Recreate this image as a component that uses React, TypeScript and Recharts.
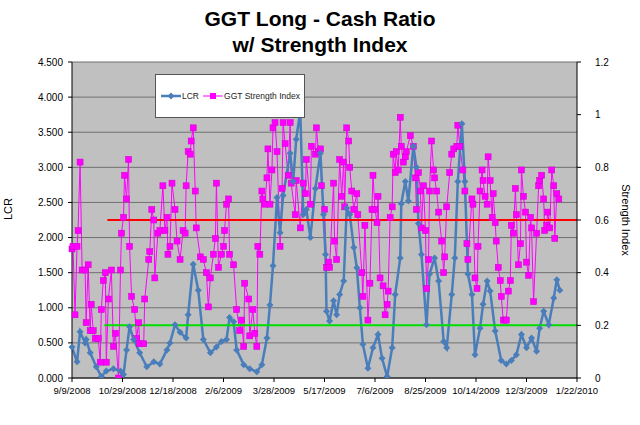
import React from "react";
import { ComposedChart, Line, XAxis, YAxis, CartesianGrid, ReferenceLine } from "recharts";

const tickDays = [0, 50, 100, 150, 200, 250, 300, 350, 400, 450, 500];
const tickLabels = ["9/9/2008", "10/29/2008", "12/18/2008", "2/6/2009", "3/28/2009", "5/17/2009", "7/6/2009", "8/25/2009", "10/14/2009", "12/3/2009", "1/22/2010"];

const lcrDays = [0, 5, 8, 13, 14, 18, 24, 29, 34, 41, 48, 51, 54, 57, 61, 67, 74, 81, 87, 94, 97, 102, 107, 113, 115, 120, 125, 130, 137, 143, 148, 153, 156, 160, 163, 170, 176, 183, 188, 193, 196, 199, 203, 206, 209, 216, 219, 222, 226, 229, 232, 236, 241,
  246, 249, 251, 252, 255, 259, 262, 265, 269, 272, 275, 279, 282, 285, 288, 293, 298, 303, 307, 312, 317, 320, 325, 326, 330, 333, 338, 341, 343, 346, 351, 354, 359, 363, 368, 371, 376, 379, 382, 386, 389, 392, 396, 399, 404, 407, 411, 414, 419, 425, 430, 435, 440, 445, 450, 455, 460, 463, 467, 472, 477, 480, 483];
const lcrValues = [0.44, 0.23, 0.66, 0.5, 0.55, 0.36, 0.16, 0.02, 0.1, 0.13, 0.1, 0.05, 0.4, 0.73, 0.55, 0.36, 0.16, 0.23, 0.2, 0.4, 0.5, 0.76, 0.65, 0.57, 0.9, 1.62, 1.25, 0.55, 0.36, 0.44, 0.52, 0.55, 0.86, 0.8, 0.4, 0.19, 0.13, 0.09, 0.19, 0.57, 1.04, 1.6, 2.57, 2.07, 2.6, 3.2, 2.8, 3.4, 3.8, 2.33, 2.4, 2.0, 2.7,
  3.2, 2.33, 1.76, 0.95, 0.81, 1.1, 0.9, 1.19, 1.38, 2.42, 2.33, 1.86, 1.57, 1.0, 0.48, 0.14, 0.43, 0.62, 0.28, 0.02, 0.43, 1.19, 1.71, 2.48, 2.8, 2.52, 3.3, 3.0, 2.2, 1.76, 0.76, 1.48, 1.71, 1.38, 0.52, 0.43, 1.19, 1.71, 2.8, 3.62, 2.8, 1.48, 1.19, 0.33, 0.71, 1.05, 1.38, 1.24, 0.67, 0.25, 0.2, 0.25, 0.33, 0.62, 0.43, 0.57, 0.38, 0.71, 0.95, 0.76, 1.14, 1.4, 1.25, 1.3];

const siDays = [0, 1, 3, 5, 6, 8, 10, 13, 14, 16, 18, 19, 21, 23, 26, 28, 29, 31, 33, 34, 36, 39, 41, 43, 46, 48, 49, 51, 52, 54, 56, 57, 59, 62, 64, 66, 67, 71, 72, 76, 77, 79, 81, 82, 85, 87, 90, 92, 94, 95, 97, 99, 102, 104, 107, 110, 112, 113, 115, 117, 118, 120, 122, 123, 127, 130, 133, 135, 137, 140, 142, 143, 145, 148, 150, 151, 153, 155, 156, 160, 163, 166, 168, 170, 171, 175, 176, 179, 181, 183, 184, 186, 188, 189, 191, 193, 194, 196, 198, 199, 201, 203, 206, 208, 209, 211, 214, 216, 217, 221, 222, 226, 229, 231, 232, 236, 237, 241, 242, 244,
  246, 247, 250, 252, 254, 255, 259, 260, 262, 265, 267, 269, 270, 272, 274, 275, 277, 279, 282, 283, 287, 288, 290, 293, 295, 297, 298, 300, 302, 303, 305, 308, 310, 312, 313, 315, 317, 318, 320, 321, 323, 325, 326, 328, 330, 331, 335, 338, 340, 341, 343, 345, 346, 348, 350, 351, 353, 354, 356, 358, 359, 361, 363, 366, 368, 369, 371, 374, 376, 378, 381, 382, 384, 387, 389, 391, 392, 396, 397, 399, 401, 402, 404, 406, 407, 409, 411, 412, 414, 416, 417, 419, 420, 422, 424, 425, 427, 429, 430, 432, 434, 435, 437, 439, 440, 442, 444, 445, 447, 449, 450, 452, 454, 455, 457, 460, 462, 463, 465, 467, 468, 470, 471, 473, 475, 477, 478, 480, 482];
const siValues = [0.49, 0.5, 0.24, 0.5, 0.56, 0.82, 0.41, 0.41, 0.21, 0.43, 0.18, 0.28, 0.18, 0.15, 0.15, 0.06, 0.26, 0.37, 0.4, 0.06, 0.3, 0.41, 0.12, 0.17, 0.0, 0.41, 0.55, 0.61, 0.77, 0.68, 0.83, 0.5, 0.31, 0.26, 0.15, 0.21, 0.13, 0.13, 0.3, 0.45, 0.48, 0.64, 0.6, 0.38, 0.55, 0.56, 0.73, 0.56, 0.61, 0.47, 0.5, 0.74, 0.64, 0.52, 0.45, 0.56, 0.55, 0.73, 0.86, 0.85, 0.9, 0.95, 0.71, 0.57, 0.46, 0.45, 0.4, 0.27, 0.38, 0.47, 0.53, 0.74, 0.42, 0.47, 0.5, 0.56, 0.66, 0.68, 0.47, 0.43, 0.26, 0.18, 0.22, 0.12, 0.36, 0.3, 0.16, 0.26, 0.17, 0.12, 0.5, 0.47, 0.71, 0.68, 0.66, 0.76, 0.87, 0.66, 0.79, 0.95, 0.97, 0.86, 0.5, 0.72, 0.97, 0.89, 0.77, 0.97, 0.74, 0.62, 0.75, 0.57, 0.74, 0.7, 0.83, 0.66, 0.88, 0.85, 0.95, 0.86,
  0.87, 0.73, 0.64, 0.42, 0.44, 0.42, 0.74, 0.52, 0.45, 0.83, 0.69, 0.82, 0.65, 0.95, 0.9, 0.8, 0.71, 0.64, 0.7, 0.62, 0.4, 0.31, 0.58, 0.22, 0.36, 0.64, 0.77, 0.64, 0.59, 0.69, 0.38, 0.35, 0.24, 0.28, 0.33, 0.61, 0.65, 0.85, 0.78, 0.86, 0.79, 0.99, 0.88, 0.82, 0.84, 0.86, 0.92, 0.88, 0.76, 0.64, 0.78, 0.71, 0.57, 0.73, 0.56, 0.34, 0.45, 0.71, 0.9, 0.79, 0.76, 0.71, 0.63, 0.52, 0.4, 0.46, 0.65, 0.78, 0.85, 0.87, 0.88, 0.96, 0.88, 0.79, 0.71, 0.51, 0.45, 0.68, 0.66, 0.38, 0.34, 0.5, 0.71, 0.79, 0.75, 0.69, 0.66, 0.84, 0.75, 0.61, 0.7, 0.59, 0.52, 0.42, 0.37, 0.31, 0.22, 0.22, 0.22, 0.33, 0.37, 0.58, 0.55, 0.72, 0.62, 0.43, 0.51, 0.79, 0.69, 0.63, 0.44, 0.39, 0.61, 0.57, 0.29, 0.55, 0.73, 0.75, 0.77, 0.68, 0.56, 0.58, 0.63, 0.57, 0.79, 0.73, 0.53, 0.7, 0.68];

const leftTicks = [0, 0.5, 1, 1.5, 2, 2.5, 3, 3.5, 4, 4.5];
const rightTicks = [0, 0.2, 0.4, 0.6, 0.8, 1, 1.2];
const redLevel = 2.25;
const greenLevel = 0.75;
const redStart = 35;
const greenStart = 32;

const lcrData = lcrDays.map((d, i) => ({ day: d, lcr: lcrValues[i] }));
const siData = siDays.map((d, i) => ({ day: d, si: siValues[i] }));

const Diamond = (p: any) => {
  const { cx, cy, index } = p;
  if (cx == null || cy == null) return <g key={index} />;
  return <polygon key={index} points={`${cx},${cy - 3.5} ${cx + 3.5},${cy} ${cx},${cy + 3.5} ${cx - 3.5},${cy}`} fill="#4a7ebb" />;
};
const Square = (p: any) => {
  const { cx, cy, index } = p;
  if (cx == null || cy == null) return <g key={index} />;
  return <rect key={index} x={cx - 3} y={cy - 3} width={6} height={6} fill="#ff00ff" stroke="#cc00cc" strokeWidth={0.5} />;
};

const LegendBox = () => (
  <div style={{ position: "absolute", left: 155, top: 74, width: 150, height: 44, background: "#fff", border: "1px solid #555", boxSizing: "border-box", display: "flex", alignItems: "center", whiteSpace: "nowrap", fontSize: 8.5, fontFamily: "Liberation Sans, Arial", color: "#222" }}>
    <svg width={20} height={10} style={{ marginLeft: 5, flexShrink: 0 }}><line x1={0} y1={5} x2={20} y2={5} stroke="#4a7ebb" strokeWidth={2.5} /><polygon points="10,1.5 13.5,5 10,8.5 6.5,5" fill="#4a7ebb" /></svg>
    <span style={{ marginLeft: 1 }}>LCR</span>
    <svg width={20} height={10} style={{ marginLeft: 4, flexShrink: 0 }}><line x1={0} y1={5} x2={20} y2={5} stroke="#ff00ff" strokeWidth={1} /><rect x={7} y={2} width={6} height={6} fill="#ff00ff" /></svg>
    <span style={{ marginLeft: 1 }}>GGT Strength Index</span>
  </div>
);

export default function App() {
  const font = "Liberation Sans, Arial, sans-serif";
  return (
    <div style={{ position: "absolute", left: 0, top: 0, width: 640, height: 425, background: "#fff", fontFamily: font }}>
      <div style={{ position: "absolute", left: 0, top: 6, width: 640, textAlign: "center", fontWeight: "bold", fontSize: 21, lineHeight: "26px", color: "#000" }}>
        GGT Long - Cash Ratio<br />w/ Strength Index
      </div>
      <ComposedChart width={640} height={425} margin={{ top: 62, right: 0, bottom: 14, left: 0 }} style={{ position: "absolute", left: 0, top: 0 }}>
        <CartesianGrid yAxisId="left" vertical={false} fill="#c0c0c0" stroke="#707070" strokeWidth={1} />
        <XAxis dataKey="day" type="number" domain={[0, 500]} ticks={tickDays} interval={0} height={33} tickFormatter={(v: number) => tickLabels[tickDays.indexOf(v)] ?? ""} allowDuplicatedCategory={false} tick={{ fontSize: 9.5, fill: "#000", fontFamily: font, dy: 3 }} tickLine={{ stroke: "#000" }} axisLine={{ stroke: "#000" }} tickSize={4} />
        <YAxis yAxisId="left" orientation="left" width={72} domain={[0, 4.5]} ticks={leftTicks} tickFormatter={(v: number) => v.toFixed(3)} tick={{ fontSize: 10, fill: "#000", fontFamily: font, dx: -3 }} axisLine={{ stroke: "#000" }} tickLine={{ stroke: "#000" }} tickSize={4} allowDataOverflow
          label={{ value: "LCR", angle: -90, position: "insideLeft", offset: 8, style: { fontSize: 11, fill: "#000", fontFamily: font } }} />
        <YAxis yAxisId="right" orientation="right" width={63} domain={[0, 1.2]} ticks={rightTicks} tickFormatter={(v: number) => String(v)} tick={{ fontSize: 10, fill: "#000", fontFamily: font, dx: 12 }} axisLine={{ stroke: "#000" }} tickLine={{ stroke: "#000" }} tickSize={4} allowDataOverflow
          label={{ value: "Strength Index", angle: 90, position: "insideRight", offset: 14, style: { fontSize: 11, fill: "#000", fontFamily: font, textAnchor: "middle" } }} />
        <Line yAxisId="right" data={siData} dataKey="si" stroke="#ff00ff" strokeWidth={1} dot={Square} isAnimationActive={false} legendType="none" />
        <Line yAxisId="left" data={lcrData} dataKey="lcr" stroke="#4a7ebb" strokeWidth={2.5} dot={Diamond} isAnimationActive={false} legendType="none" />
        <ReferenceLine yAxisId="left" segment={[{ x: redStart, y: redLevel }, { x: 500, y: redLevel }]} stroke="#ff0000" strokeWidth={2} />
        <ReferenceLine yAxisId="left" segment={[{ x: greenStart, y: greenLevel }, { x: 500, y: greenLevel }]} stroke="#00dd00" strokeWidth={2} />
      </ComposedChart>
      <LegendBox />
    </div>
  );
}
